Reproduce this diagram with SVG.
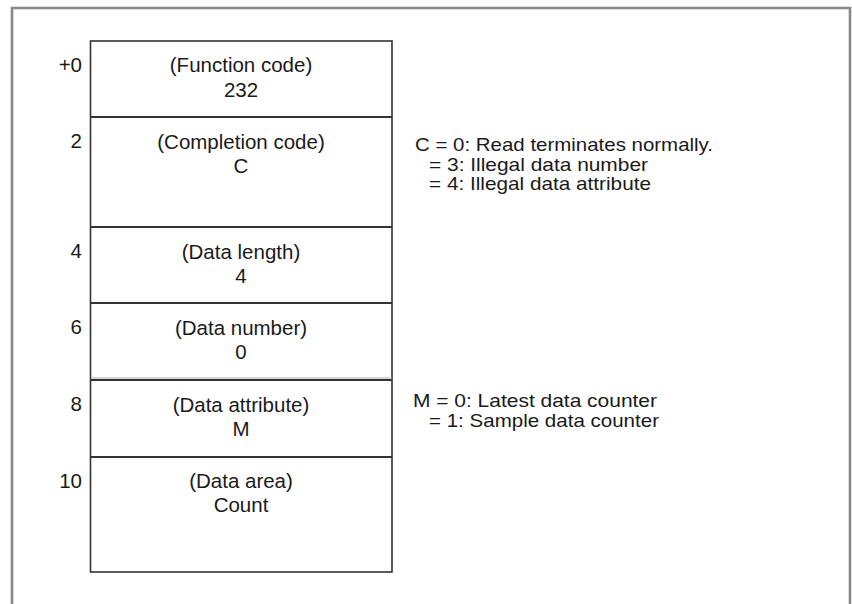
<svg xmlns="http://www.w3.org/2000/svg" width="852" height="604" viewBox="0 0 852 604">
<style>
text{font-family:"Liberation Sans",Arial,sans-serif;font-size:20.5px;fill:#1a1a1a}
.c{text-anchor:middle}
.r{text-anchor:end}
.n{font-size:18.5px}
.box{fill:#fff;stroke:#333;stroke-width:1.6}
.div{stroke:#333;stroke-width:2}
</style>
<rect width="852" height="604" fill="#fff"/>
<path d="M12,604 V8 H850 V604" fill="none" stroke="#888" stroke-width="2.6"/>
<g id="frame">
<rect class="box" x="90.5" y="41" width="301.5" height="531"/>
</g>
<g id="connectors">
<line class="div" x1="90.5" y1="117" x2="392" y2="117"/>
<line class="div" x1="90.5" y1="227" x2="392" y2="227"/>
<line class="div" x1="90.5" y1="303" x2="392" y2="303"/>
<line x1="90.5" y1="378" x2="392" y2="378" stroke="#aaa" stroke-width="1"/>
<line class="div" x1="90.5" y1="380" x2="392" y2="380"/>
<line class="div" x1="90.5" y1="457" x2="392" y2="457" stroke-width="2.4"/>
</g>
<g id="n0">
<text class="r" x="82" y="72">+0</text>
<text class="c" x="241" y="72">(Function code)</text>
<text class="c" x="241" y="97">232</text>
</g>
<g id="n2">
<text class="r" x="82" y="148">2</text>
<text class="c" x="241" y="149">(Completion code)</text>
<text class="c" x="241" y="173">C</text>
</g>
<g id="n4">
<text class="r" x="82" y="258">4</text>
<text class="c" x="241" y="259">(Data length)</text>
<text class="c" x="241" y="283">4</text>
</g>
<g id="n6">
<text class="r" x="82" y="334">6</text>
<text class="c" x="241" y="335">(Data number)</text>
<text class="c" x="241" y="359">0</text>
</g>
<g id="n8">
<text class="r" x="82" y="411">8</text>
<text class="c" x="241" y="412">(Data attribute)</text>
<text class="c" x="241" y="436">M</text>
</g>
<g id="n10">
<text class="r" x="82" y="488">10</text>
<text class="c" x="241" y="488">(Data area)</text>
<text class="c" x="241" y="512">Count</text>
</g>
<g id="noteC" xml:space="preserve">
<text class="n" x="415" y="151" textLength="298" lengthAdjust="spacingAndGlyphs">C = 0:  Read terminates normally.</text>
<text class="n" x="429" y="170.5" textLength="219" lengthAdjust="spacingAndGlyphs">= 3:  Illegal data number</text>
<text class="n" x="429" y="190" textLength="222" lengthAdjust="spacingAndGlyphs">= 4:  Illegal data attribute</text>
</g>
<g id="noteM" xml:space="preserve">
<text class="n" x="413" y="407" textLength="244" lengthAdjust="spacingAndGlyphs">M = 0:  Latest data counter</text>
<text class="n" x="429" y="427" textLength="230" lengthAdjust="spacingAndGlyphs">= 1:  Sample data counter</text>
</g>
</svg>
